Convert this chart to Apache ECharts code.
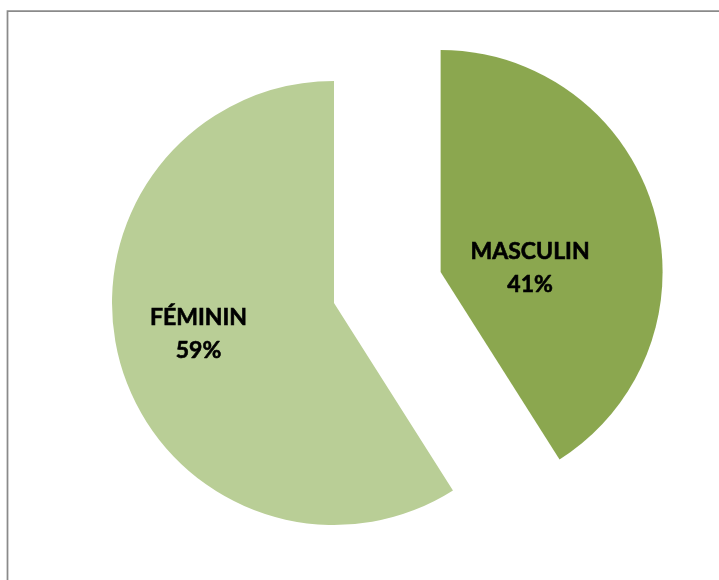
<!DOCTYPE html>
<html>
<head>
<meta charset="utf-8">
<style>
  html, body { margin: 0; padding: 0; background: #ffffff; }
  #chart { width: 719px; height: 580px; }
</style>
<script src="https://cdn.jsdelivr.net/npm/echarts@6/dist/echarts.min.js"></script>
</head>
<body>
<div id="chart"></div>
<script>
// Répartition par sexe
const categories = ['MASCULIN', 'FÉMININ'];
const values = [41, 59];
const colors = ['#8ba74f', '#b9ce96'];
// label nudges (px) relative to the slice's inside anchor
const labelShifts = [[-20, 28], [-26, -1]];

const chart = echarts.init(document.getElementById('chart'), null, { renderer: 'canvas' });

const data = categories.map((name, i) => ({
  name: name,
  value: values[i],
  selected: true,
  itemStyle: { color: colors[i] }
}));

chart.setOption({
  animation: false,
  backgroundColor: '#ffffff',
  graphic: [{
    type: 'rect',
    silent: true,
    shape: { x: 7.5, y: 11, width: 760, height: 620 },
    style: { fill: 'none', stroke: '#8a8a8a', lineWidth: 1.75 }
  }],
  series: [{
    type: 'pie',
    center: [387.3, 287.5],
    radius: 222,
    startAngle: 90,
    clockwise: true,
    selectedMode: 'multiple',
    selectedOffset: 55.5,
    avoidLabelOverlap: false,
    emphasis: { scale: false },
    itemStyle: { borderWidth: 0 },
    label: {
      show: true,
      position: 'inside',
      formatter: p => p.name + '\n' + Math.round(p.percent) + '%',
      fontFamily: 'Lato, "Open Sans", sans-serif',
      fontWeight: 'bold',
      fontSize: 23,
      lineHeight: 33,
      color: '#000000',
      textBorderColor: '#000000',
      textBorderWidth: 0.6,
      align: 'center'
    },
    labelLayout: params => ({
      dx: labelShifts[params.dataIndex][0],
      dy: labelShifts[params.dataIndex][1]
    }),
    labelLine: { show: false },
    data: data
  }]
});
</script>
</body>
</html>
